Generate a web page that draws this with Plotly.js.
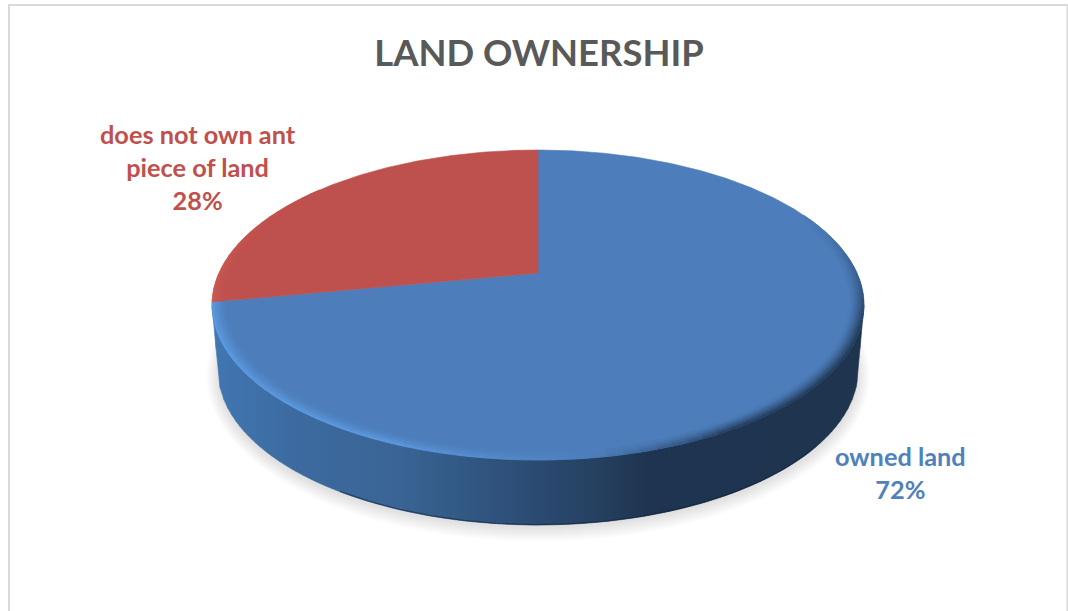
<!DOCTYPE html>
<html>
<head>
<meta charset="utf-8">
<title>Land ownership</title>
<script src="https://cdn.plot.ly/plotly-3.0.1.min.js"></script>
<style>html,body{margin:0;padding:0;background:#fff}#chart{width:1068px;height:611px}</style>
</head>
<body>
<div id="chart"></div>
<script>
// Survey shares, clockwise from twelve o'clock
const categories = ['owned land', 'does not own ant<br>piece of land'];
const shares = [72, 28];
const chartTitle = 'LAND OWNERSHIP';

const FONT = 'Lato, Carlito, "Open Sans", sans-serif';
const BLUE = [77, 126, 187], RED = [190, 80, 77];
const LABEL_COLORS = ['#4F81BD', '#C0504D'];
const LABEL_POS = [[900, 472], [198, 167]];

// The axes run in page pixels, so the disc geometry reads directly
const W = 1068, H = 611;
const CX = 538, TOP_Y = 150, APEX_Y = 273, FRONT_Y = 460, RX = 326;
const BASE = {cy: 370, rx: 320, ry: 155};

// Tilted disc: a unit circle seen in perspective, nearer edge larger
const backSpan = APEX_Y - TOP_Y, frontSpan = FRONT_Y - APEX_Y;
const K = (backSpan - frontSpan) / (backSpan + frontSpan);
const B = backSpan * (1 - K);
const A = RX * Math.sqrt(1 - K * K);
function disc(r, phi) {
  const u = r * Math.sin(phi), v = -r * Math.cos(phi), d = 1 + K * v;
  return [CX + A * u / d, APEX_Y + B * v / d];
}
const TOP_CY = (TOP_Y + FRONT_Y) / 2;

const mix = (a, b, t) => a.map((c, i) => c + (b[i] - c) * t);
const rgb = c => `rgb(${c.map(Math.round).join(',')})`;

const traces = [];
function poly(points, color, opts) {
  traces.push(Object.assign({
    type: 'scatter', mode: 'lines', x: points.map(p => p[0]), y: points.map(p => p[1]),
    fill: 'toself', fillcolor: color, line: {color: color, width: 0.6},
    hoverinfo: 'skip', showlegend: false
  }, opts || {}));
}

// Soft drop shadow under the base
const SHADOW_STEPS = 14;
for (let i = SHADOW_STEPS; i >= 0; i--) {
  const g = i / SHADOW_STEPS, pts = [];
  for (let j = 0; j <= 120; j++) {
    const t = j / 120 * 2 * Math.PI;
    pts.push([CX + (320 + 12 * g) * Math.cos(t), 376 + (152 + 14 * g) * Math.sin(t)]);
  }
  traces.push({type: 'scatter', mode: 'lines', x: pts.map(p => p[0]), y: pts.map(p => p[1]),
    fill: 'toself', fillcolor: 'rgba(0,0,0,0.0095)', line: {width: 0}, hoverinfo: 'skip', showlegend: false});
}

// Side wall, shaded left to right as vertical strips
const WALL_RAMP = [[205, [66, 120, 180]], [300, [60, 106, 160]], [400, [58, 100, 148]], [480, [48, 86, 128]],
                   [540, [43, 74, 114]], [600, [37, 64, 95]], [650, [31, 52, 80]], [870, [31, 53, 79]]];
function wallColor(x) {
  for (let i = 1; i < WALL_RAMP.length; i++) {
    if (x <= WALL_RAMP[i][0]) {
      const [x0, c0] = WALL_RAMP[i - 1], [x1, c1] = WALL_RAMP[i];
      return rgb(mix(c0, c1, Math.max(0, (x - x0) / (x1 - x0))));
    }
  }
  return rgb(WALL_RAMP[WALL_RAMP.length - 1][1]);
}
function wallLower(x) {
  const dx = Math.abs(x - CX);
  if (dx <= BASE.rx) return BASE.cy + BASE.ry * Math.sqrt(1 - (dx / BASE.rx) ** 2);
  return TOP_CY + (BASE.cy - TOP_CY) * (RX - dx) / (RX - BASE.rx);
}
const STRIP = 4;
for (let x = CX - RX; x < CX + RX; x += STRIP) {
  const pts = [];
  for (let s = 0; s <= 4; s++) { const xs = x + STRIP * s / 4; pts.push([xs, wallLower(xs)]); }
  pts.push([x + STRIP, TOP_CY], [x, TOP_CY]);
  poly(pts, wallColor(x + STRIP / 2));
}

// Darker seam where the wall meets the ground
const seam = [];
for (let x = 340; x <= CX + BASE.rx - 40; x += 4) seam.push([x, wallLower(x) - 0.4]);
traces.push({type: 'scatter', mode: 'lines', x: seam.map(p => p[0]), y: seam.map(p => p[1]),
  line: {color: 'rgba(18,32,52,0.55)', width: 1.2}, hoverinfo: 'skip', showlegend: false});

// Top face: one slice per category, sized from its share
const total = shares.reduce((a, b) => a + b, 0);
const sliceColors = [BLUE, RED];
let start = 0;
const spans = shares.map(v => { const s = [start, start + v / total * 2 * Math.PI]; start = s[1]; return s; });
spans.forEach((span, i) => {
  const pts = [[CX, APEX_Y]], n = Math.ceil((span[1] - span[0]) / 0.01);
  for (let j = 0; j <= n; j++) pts.push(disc(1, span[0] + (span[1] - span[0]) * j / n));
  pts.push([CX, APEX_Y]);
  poly(pts, rgb(sliceColors[i]), {
    name: categories[i].replace('<br>', ' '),
    hoverinfo: 'name'
  });
});

// Bevel around the rim: lit along the front left, dropping into shade on the right
const DEG = Math.PI / 180;
function bevelTone(phi) {
  const d = phi / DEG;
  if (d >= 172 && d <= 290) {
    const rise = Math.min(1, (d - 172) / 30), fall = d > 262 ? 1 - (d - 262) / 60 : 1;
    return {to: [94, 156, 226], w: rise * fall};
  }
  if (d >= 60 && d < 172) {
    const rise = Math.pow(Math.min(1, (d - 60) / 50), 1.5), fall = d > 150 ? (172 - d) / 22 : 1;
    return {to: [31, 54, 82], w: rise * fall};
  }
  return {to: BLUE, w: 0};
}
const RINGS = 7, RING_W = 0.046, SEG = 2.5 * DEG;
for (let ring = 0; ring < RINGS; ring++) {
  const r0 = 1 - RING_W * ring / RINGS, r1 = 1 - RING_W * (ring + 1) / RINGS;
  const strength = Math.pow(1 - (ring + 0.5) / RINGS, 1.4);
  spans.forEach((span, i) => {
    for (let a = span[0]; a < span[1] - 1e-6; a += SEG) {
      const b = Math.min(a + SEG, span[1]), mid = (a + b) / 2;
      let tone = bevelTone(mid);
      if (i === 1) tone = {to: [214, 96, 90], w: Math.max(0, (310 - mid / DEG) / 50) * 0.6};
      const w = tone.w * strength;
      if (w < 0.02) continue;
      poly([disc(r0, a), disc(r0, b), disc(r1, b), disc(r1, a), disc(r0, a)], rgb(mix(sliceColors[i], tone.to, w)));
    }
  });
}

const annotations = categories.map((c, i) => ({
  x: LABEL_POS[i][0], y: LABEL_POS[i][1], xref: 'x', yref: 'y', showarrow: false,
  text: `${c}<br>${Math.round(shares[i] / total * 100)}%`,
  align: 'center', xanchor: 'center', yanchor: 'middle',
  font: {family: FONT, size: 25.3, color: LABEL_COLORS[i], weight: 700}
}));

const layout = {
  width: W, height: H, margin: {l: 0, r: 0, t: 0, b: 0},
  paper_bgcolor: '#fff', plot_bgcolor: '#fff', showlegend: false,
  title: {text: chartTitle, x: 539 / W, xanchor: 'center', y: 1 - 53 / H, yanchor: 'middle',
          font: {family: FONT, size: 36.4, color: '#595959', weight: 700}},
  xaxis: {range: [0, W], visible: false, fixedrange: true},
  yaxis: {range: [H, 0], visible: false, fixedrange: true},
  annotations: annotations,
  shapes: [{type: 'path', xref: 'x', yref: 'y', path: `M 9 ${H} L 9 5 L 1067.5 5 L 1067.5 ${H}`,
            line: {color: '#D9D9D9', width: 2}, layer: 'below'}]
};
Plotly.newPlot('chart', traces, layout, {displayModeBar: false, responsive: false});
</script>
</body>
</html>
